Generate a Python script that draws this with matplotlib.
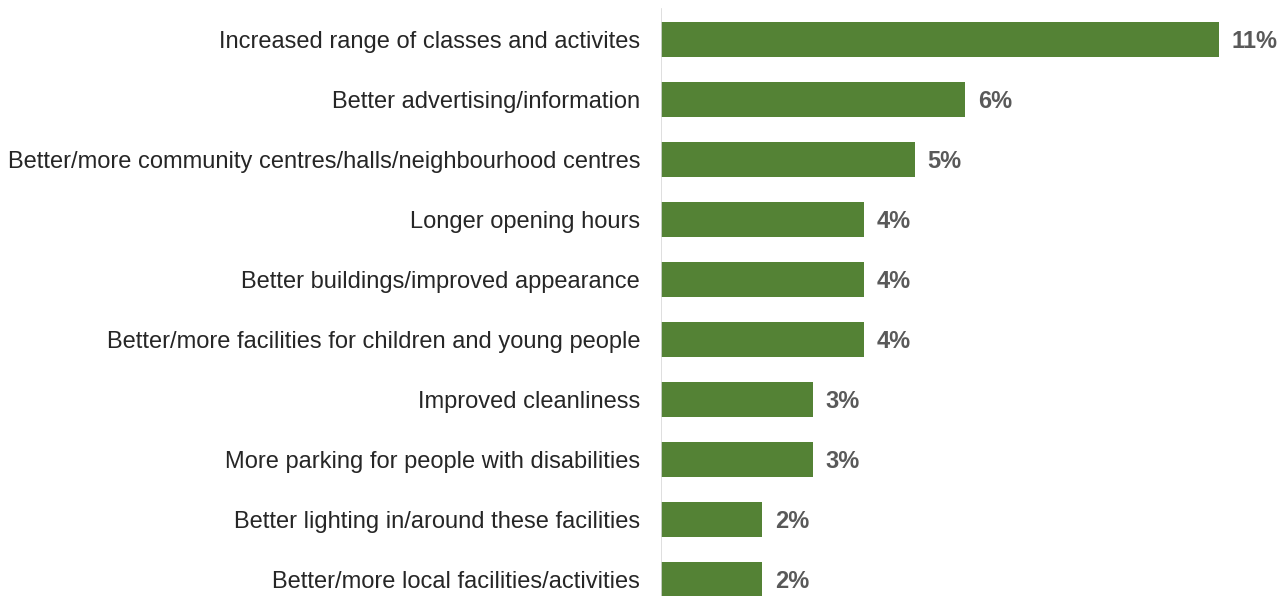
import matplotlib.pyplot as plt

categories = [
    "Increased range of classes and activites",
    "Better advertising/information",
    "Better/more community centres/halls/neighbourhood centres",
    "Longer opening hours",
    "Better buildings/improved appearance",
    "Better/more facilities for children and young people",
    "Improved cleanliness",
    "More parking for people with disabilities",
    "Better lighting in/around these facilities",
    "Better/more local facilities/activities",
]
values = [11, 6, 5, 4, 4, 4, 3, 3, 2, 2]

plt.rcParams["font.family"] = ["Liberation Sans", "DejaVu Sans"]

W, H = 1279, 596
fig = plt.figure(figsize=(W / 100, H / 100), dpi=100)
left_px = 661
ax = fig.add_axes([left_px / W, 0, 1 - left_px / W, 1])

bar_color = "#548235"
positions = list(range(len(categories)))
ax.barh(positions, values, height=0.57, color=bar_color)

# pixel layout: row pitch 60px, first row centred 39.5px from the top
pitch = 60.0
ax.set_ylim((H - 39.5) / pitch, -39.5 / pitch)
ax.set_xlim(0, (W - left_px) / 50.7)

for y, v in zip(positions, values):
    ax.text(v + 0.25, y + 0.04, f"{v}%", va="center", ha="left",
            fontsize=17, fontweight="bold", color="#595959")

ax.set_yticks(positions)
ax.set_yticklabels(categories, fontsize=17, color="#262626")
ax.tick_params(axis="y", length=0, pad=15)
ax.set_xticks([])
for s in ax.spines.values():
    s.set_visible(False)

ax.axvline(0, ymin=0, ymax=1 - 9 / H, color="#d9d9d9", linewidth=1.2)

fig.savefig("out.png", dpi=100)
